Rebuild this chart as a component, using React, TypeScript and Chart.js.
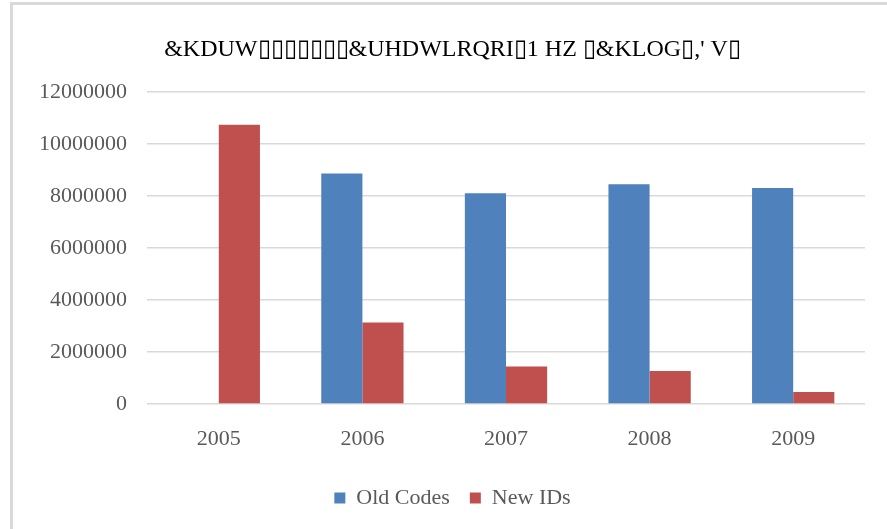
import React, { useEffect, useRef } from "react";
import { Chart, registerables } from "chart.js";

Chart.register(...registerables);

const TITLE = "&KDUW\u25AF\u25AF\u25AF\u25AF\u25AF\u25AF\u25AF&UHDWLRQRI\u25AF1 HZ \u25AF&KLOG\u25AF,' V\u25AF";
const CATEGORIES = ["2005", "2006", "2007", "2008", "2009"];
const OLD_CODES = [0, 8860000, 8100000, 8450000, 8300000];
const NEW_IDS = [10730000, 3130000, 1440000, 1270000, 460000];
const SERIES_NAMES = ["Old Codes", "New IDs"];
const Y_MAX = 12000000;
const Y_STEP = 2000000;

const FONT = "'Liberation Serif', 'Times New Roman', serif";

export default function App() {
  const ref = useRef<HTMLCanvasElement | null>(null);

  useEffect(() => {
    if (!ref.current) return;
    const chart = new Chart(ref.current, {
      type: "bar",
      data: {
        labels: CATEGORIES,
        datasets: [
          {
            label: SERIES_NAMES[0],
            data: OLD_CODES,
            backgroundColor: "#4F81BD",
            borderWidth: 0,
          },
          {
            label: SERIES_NAMES[1],
            data: NEW_IDS,
            backgroundColor: "#C0504D",
            borderWidth: 0,
          },
        ],
      },
      options: {
        animation: false,
        responsive: false,
        maintainAspectRatio: false,
        layout: { padding: { left: 40, right: 22, top: 0, bottom: 10 } },
        datasets: {
          bar: { categoryPercentage: 0.573, barPercentage: 1.0 },
        },
        plugins: {
          title: {
            display: true,
            text: TITLE,
            color: "#000000",
            font: { family: FONT, size: 24, weight: "normal" },
            padding: { top: 35, bottom: 28 },
          },
          legend: {
            display: true,
            position: "bottom",
            labels: {
              boxWidth: 11,
              boxHeight: 11,
              color: "#595959",
              padding: 20,
              font: { family: FONT, size: 22 },
            },
          },
          tooltip: { enabled: false },
        },
        scales: {
          x: {
            grid: { display: false, drawTicks: false },
            border: { display: false },
            ticks: {
              color: "#595959",
              padding: 22,
              font: { family: FONT, size: 22 },
            },
            afterFit: (scale: any) => {
              scale.height = 63;
            },
          },
          y: {
            min: 0,
            max: Y_MAX,
            grid: {
              color: "#d9d9d9",
              lineWidth: 1.5,
              drawTicks: false,
            },
            border: { display: false },
            ticks: {
              stepSize: Y_STEP,
              color: "#595959",
              padding: 20,
              font: { family: FONT, size: 22 },
              callback: (v: any) => String(v),
            },
            afterFit: (scale: any) => {
              scale.width = 107;
            },
          },
        },
      },
    });
    return () => chart.destroy();
  }, []);

  return (
    <div
      style={{
        position: "fixed",
        left: 0,
        top: 0,
        width: 887,
        height: 529,
        background: "#ffffff",
        overflow: "hidden",
      }}
    >
      <div
        style={{
          position: "absolute",
          left: 10,
          top: 2,
          width: 900,
          height: 600,
          borderTop: "3px solid #d9d9d7",
          borderLeft: "3px solid #d9d9d7",
          boxSizing: "border-box",
        }}
      />
      <canvas
        ref={ref}
        width={887}
        height={529}
        style={{ position: "absolute", left: 0, top: 0 }}
      />
    </div>
  );
}
